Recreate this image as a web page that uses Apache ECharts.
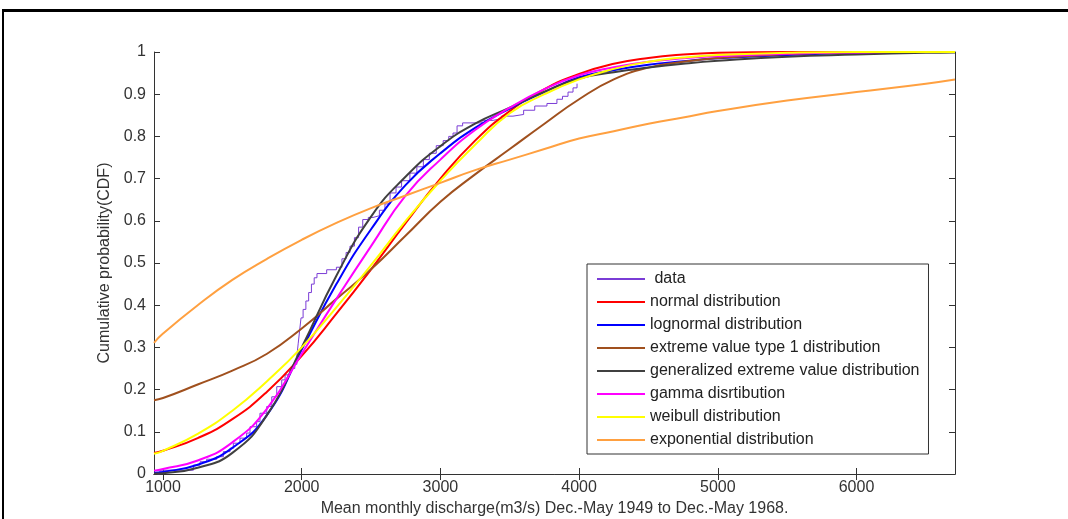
<!DOCTYPE html>
<html>
<head>
<meta charset="utf-8">
<script src="https://cdn.jsdelivr.net/npm/echarts@6/dist/echarts.min.js"></script>
<style>
  html, body { margin: 0; padding: 0; background: #fff; }
  #chart { width: 1068px; height: 519px; }
</style>
</head>
<body>
<div id="chart"></div>
<script>
const fitX = [935, 1000, 1250, 1500, 1750, 2000, 2250, 2500, 2750, 3000, 3250, 3500, 3750, 4000, 4250, 4500, 4750, 5000, 5500, 6000, 6500, 6710];

const normalCdf = [0.05, 0.055, 0.085, 0.13, 0.195, 0.28, 0.38, 0.485, 0.595, 0.70, 0.79, 0.86, 0.912, 0.948, 0.972, 0.986, 0.994, 0.998, 1, 1, 1, 1];
const lognormalCdf = [0.003, 0.005, 0.022, 0.062, 0.14, 0.295, 0.45, 0.58, 0.685, 0.76, 0.82, 0.866, 0.905, 0.94, 0.957, 0.97, 0.978, 0.985, 0.993, 0.998, 1, 1];
const ev1Cdf = [0.175, 0.18, 0.212, 0.245, 0.285, 0.345, 0.415, 0.485, 0.565, 0.645, 0.71, 0.77, 0.83, 0.888, 0.935, 0.963, 0.977, 0.986, 0.995, 0.999, 1, 1];
const gevCdf = [0.001, 0.002, 0.015, 0.05, 0.14, 0.30, 0.47, 0.61, 0.705, 0.777, 0.83, 0.868, 0.906, 0.937, 0.952, 0.963, 0.972, 0.979, 0.989, 0.994, 0.998, 0.999];
const gammaCdf = [0.008, 0.012, 0.032, 0.075, 0.155, 0.285, 0.415, 0.54, 0.66, 0.745, 0.815, 0.868, 0.912, 0.945, 0.964, 0.977, 0.985, 0.99, 0.996, 0.999, 1, 1];
const weibullCdf = [0.048, 0.055, 0.095, 0.15, 0.22, 0.30, 0.395, 0.495, 0.60, 0.695, 0.78, 0.855, 0.90, 0.935, 0.96, 0.977, 0.987, 0.993, 0.998, 1, 1, 1];
const expCdf = [0.311, 0.333, 0.40, 0.46, 0.51, 0.555, 0.595, 0.63, 0.66, 0.69, 0.72, 0.745, 0.77, 0.795, 0.812, 0.83, 0.845, 0.86, 0.885, 0.905, 0.925, 0.935];

// empirical cdf (staircase)
const dataX = [960, 978, 1219, 1267, 1315, 1387, 1435, 1483, 1507, 1555, 1603, 1627, 1675, 1699, 1748, 1784, 1820, 1856, 1880, 1916, 1950, 1965, 1975, 1985, 1995, 2010, 2030, 2050, 2070, 2090, 2110, 2180, 2250, 2290, 2320, 2348, 2380, 2410, 2440, 2480, 2514, 2560, 2600, 2637, 2680, 2720, 2780, 2830, 2877, 2920, 2970, 3020, 3060, 3091, 3120, 3160, 3300, 3380, 3440, 3523, 3600, 3680, 3768, 3840, 3880, 3920, 3956, 3985];
const dataF = [0, 0.009, 0.021, 0.029, 0.035, 0.041, 0.053, 0.061, 0.073, 0.085, 0.097, 0.112, 0.124, 0.144, 0.16, 0.183, 0.207, 0.223, 0.235, 0.25, 0.26, 0.28, 0.31, 0.34, 0.37, 0.39, 0.41, 0.43, 0.45, 0.465, 0.475, 0.484, 0.49, 0.51, 0.525, 0.54, 0.56, 0.585, 0.603, 0.608, 0.612, 0.625, 0.64, 0.666, 0.68, 0.695, 0.713, 0.728, 0.745, 0.76, 0.778, 0.79, 0.80, 0.808, 0.825, 0.832, 0.838, 0.842, 0.848, 0.852, 0.862, 0.872, 0.878, 0.888, 0.895, 0.905, 0.915, 0.925];

const xTicks = [1000, 2000, 3000, 4000, 5000, 6000];

const fits = [
    { name: 'normal distribution', values: normalCdf, color: '#ff0000' },
    { name: 'lognormal distribution', values: lognormalCdf, color: '#0000ff' },
    { name: 'extreme value type 1 distribution', values: ev1Cdf, color: '#a0501e' },
    { name: 'generalized extreme value distribution', values: gevCdf, color: '#404040' },
    { name: 'gamma disrtibution', values: gammaCdf, color: '#ff00ff' },
    { name: 'weibull distribution', values: weibullCdf, color: '#ffff00' },
    { name: 'exponential distribution', values: expCdf, color: '#ffa040' }
];

const pairs = (xs, ys) => xs.map((x, i) => [x, ys[i]]);

const font = 'Arial, "Liberation Sans", sans-serif';

const baseX = {
    type: 'value',
    min: 935,
    max: 6710,
    axisLine: { lineStyle: { color: '#333', width: 1 } },
    splitLine: { show: false }
};
const baseY = {
    type: 'value',
    min: 0,
    max: 1,
    interval: 0.1,
    axisLine: { lineStyle: { color: '#333', width: 1 } },
    splitLine: { show: false }
};

function renderCdfChart() {
    const myChart = echarts.init(document.getElementById('chart'));

    const series = [{
        name: ' data',
        type: 'line',
        step: 'end',
        showSymbol: false,
        data: pairs(dataX, dataF),
        itemStyle: { color: '#7a3cd6' },
        lineStyle: { color: '#7a3cd6', width: 1 },
        z: 2
    }];
    fits.forEach(f => {
        series.push({
            name: f.name,
            type: 'line',
            smooth: 0.5,
            showSymbol: false,
            data: pairs(fitX, f.values),
            itemStyle: { color: f.color },
            lineStyle: { color: f.color, width: 2 },
            z: 3
        });
    });

    const option = {
        animation: false,
        backgroundColor: '#fff',
        grid: { left: 154, top: 52, width: 801, height: 422, outerBoundsMode: 'none', containLabel: false },
        xAxis: [
            Object.assign({}, baseX, {
                position: 'bottom',
                name: 'Mean monthly discharge(m3/s) Dec.-May 1949 to Dec.-May 1968.',
                nameLocation: 'middle',
                nameGap: 26,
                nameTextStyle: { fontFamily: font, fontSize: 16, color: '#333' },
                axisTick: { inside: true, length: 6, customValues: xTicks, lineStyle: { color: '#333' } },
                axisLabel: {
                    customValues: xTicks, margin: 6, fontFamily: font, fontSize: 16, color: '#333',
                    formatter: v => String(v)
                }
            }),
            Object.assign({}, baseX, {
                position: 'top',
                axisTick: { inside: true, length: 6, customValues: xTicks, lineStyle: { color: '#333' } },
                axisLabel: { show: false }
            })
        ],
        yAxis: [
            Object.assign({}, baseY, {
                position: 'left',
                name: 'Cumulative probability(CDF)',
                nameLocation: 'middle',
                nameGap: 35,
                nameTextStyle: { fontFamily: font, fontSize: 16, color: '#333' },
                axisTick: { inside: true, length: 6, lineStyle: { color: '#333' } },
                axisLabel: {
                    margin: 8, fontFamily: font, fontSize: 16, color: '#333',
                    formatter: v => String(Math.round(v * 10) / 10)
                }
            }),
            Object.assign({}, baseY, {
                position: 'right',
                axisTick: { inside: true, length: 6, lineStyle: { color: '#333' } },
                axisLabel: { show: false }
            })
        ],
        legend: {
            orient: 'vertical',
            left: 587,
            top: 264,
            padding: [6, 9, 5, 10],
            itemGap: 5,
            itemWidth: 48,
            itemHeight: 2,
            icon: 'rect',
            borderColor: '#333',
            borderWidth: 1,
            backgroundColor: '#fff',
            textStyle: { fontFamily: font, fontSize: 16, color: '#222', lineHeight: 18 },
            data: series.map(s => s.name)
        },
        graphic: [
            { type: 'rect', shape: { x: 2, y: 9, width: 1070, height: 3 }, style: { fill: '#000' } },
            { type: 'rect', shape: { x: 2, y: 9, width: 2, height: 520 }, style: { fill: '#000' } }
        ],
        series: series
    };

    myChart.setOption(option);
}

renderCdfChart();
</script>
</body>
</html>
